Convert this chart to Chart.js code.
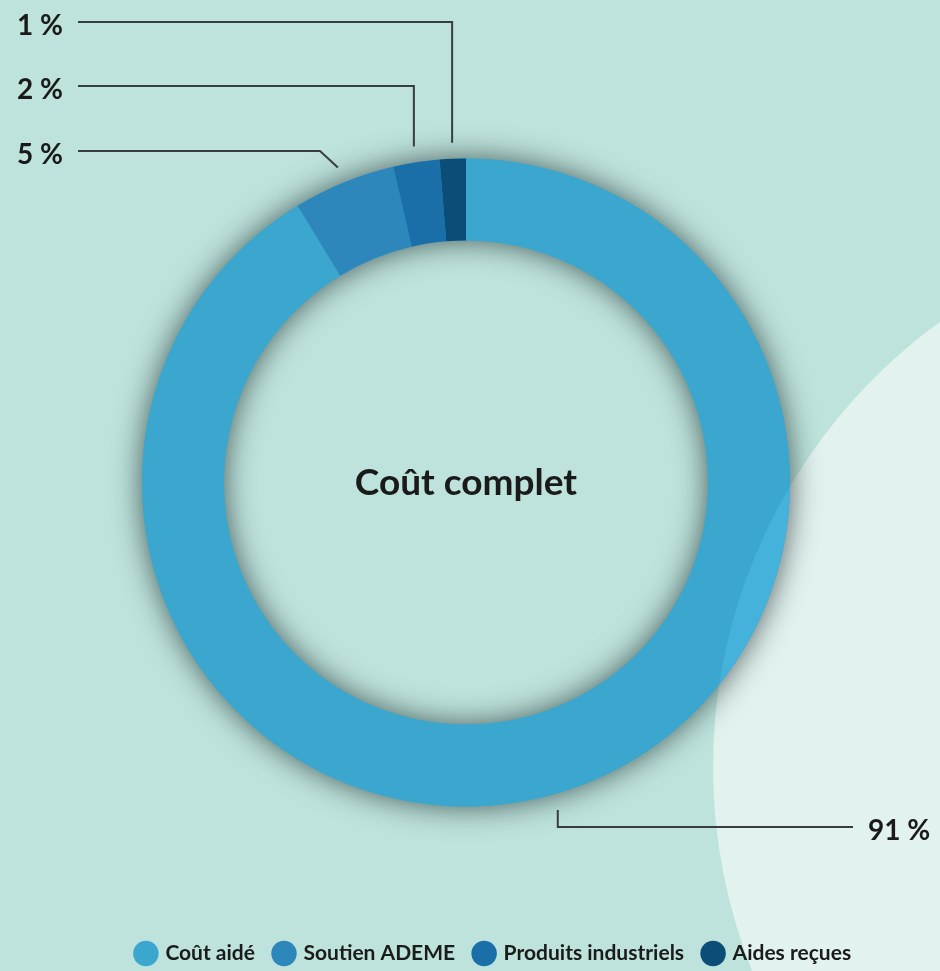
<!DOCTYPE html>
<html><head><meta charset="utf-8">
<script src="https://cdn.jsdelivr.net/npm/chart.js@4"></script>
<style>html,body{margin:0;padding:0;background:#bde3dc;overflow:hidden}#wrap{width:940px;height:971px;position:relative}</style>
</head><body><div id="wrap"><canvas id="c" width="940" height="971"></canvas></div>
<script>
const categories = ['Coût aidé', 'Soutien ADEME', 'Produits industriels', 'Aides reçues'];
const shares = [91.3, 5.1, 2.3, 1.3];
const shareLabels = ['91 %', '5 %', '2 %', '1 %'];
const sliceColors = ['#3ba7cf', '#2e87ba', '#1a6fa8', '#0c4d78'];
const centerTitle = 'Coût complet';

const FONT = 'Lato, "Open Sans", sans-serif';
const BG = '#bde3dc';

// leader line routes (layout only): kind + turning coordinates
const leaderLayout = [
  { kind: 'down', turnY: 827, endX: 853, textX: 868 },
  { kind: 'diag', turnX: 320, turnY: 151, endX: 78, textX: 17 },
  { kind: 'up', turnY: 86, endX: 78, textX: 17 },
  { kind: 'up', turnY: 22, endX: 78, textX: 17 }
];

const bgPlugin = {
  id: 'bg',
  beforeDraw(chart) {
    const ctx = chart.ctx;
    ctx.save();
    ctx.fillStyle = BG;
    ctx.fillRect(0, 0, chart.width, chart.height);
    ctx.beginPath();
    ctx.arc(1263, 767, 550, 0, Math.PI * 2);
    ctx.fillStyle = '#e1f2ef';
    ctx.fill();
    ctx.restore();
  }
};

const ringShadow = {
  id: 'ringShadow',
  beforeDatasetsDraw(chart) {
    const arc = chart.getDatasetMeta(0).data[0];
    if (!arc) return;
    const { x, y, outerRadius, innerRadius } = arc;
    const ctx = chart.ctx;
    ctx.save();
    ctx.shadowColor = 'rgba(20,30,30,0.7)';
    ctx.shadowBlur = 30;
    ctx.beginPath();
    ctx.arc(x, y, outerRadius, 0, Math.PI * 2);
    ctx.arc(x, y, innerRadius, 0, Math.PI * 2, true);
    ctx.fillStyle = sliceColors[0];
    ctx.fill('evenodd');
    ctx.restore();
  }
};

const overlayPlugin = {
  id: 'overlay',
  afterDatasetsDraw(chart) {
    const meta = chart.getDatasetMeta(0);
    const a0 = meta.data[0];
    const ctx = chart.ctx;
    // light circle overlapping the ring
    ctx.save();
    ctx.beginPath();
    ctx.arc(1263, 767, 550, 0, Math.PI * 2);
    ctx.clip();
    ctx.beginPath();
    ctx.arc(a0.x, a0.y, a0.outerRadius, 0, Math.PI * 2);
    ctx.arc(a0.x, a0.y, a0.innerRadius, 0, Math.PI * 2, true);
    ctx.fillStyle = 'rgba(85,195,238,0.4)';
    ctx.fill('evenodd');
    ctx.restore();

    // centre title
    ctx.save();
    ctx.fillStyle = '#1a1a1a';
    ctx.font = 'bold 37px ' + FONT;
    ctx.textAlign = 'center';
    ctx.textBaseline = 'middle';
    ctx.fillText(centerTitle, a0.x, a0.y + 1);
    ctx.restore();

    // leader lines and labels
    ctx.save();
    ctx.strokeStyle = '#3a3d3d';
    ctx.lineWidth = 2;
    ctx.fillStyle = '#1a1a1a';
    ctx.font = 'bold 28px ' + FONT;
    ctx.textBaseline = 'alphabetic';
    meta.data.forEach((arc, i) => {
      const L = leaderLayout[i];
      const mid = (arc.startAngle + arc.endAngle) / 2;
      const r = arc.outerRadius + 16;
      const ax = arc.x + Math.cos(mid) * r;
      const ay = arc.y + Math.sin(mid) * r;
      ctx.beginPath();
      ctx.moveTo(ax, ay);
      if (L.kind === 'diag') {
        ctx.lineTo(L.turnX, L.turnY);
        ctx.lineTo(L.endX, L.turnY);
      } else {
        ctx.lineTo(ax, L.turnY);
        ctx.lineTo(L.endX, L.turnY);
      }
      ctx.stroke();
      ctx.textAlign = 'left';
      ctx.fillText(shareLabels[i], L.textX, L.turnY + 12.5);
    });
    ctx.restore();
  }
};

const legendShift = {
  id: 'legendShift',
  afterLayout(chart) {
    if (chart.legend) {
      chart.legend.left += 56;
      chart.legend.top += 3;
      chart.legend.bottom += 3;
    }
  }
};

new Chart(document.getElementById('c'), {
  type: 'doughnut',
  data: {
    labels: categories,
    datasets: [{
      data: shares,
      backgroundColor: sliceColors,
      borderWidth: 0,
      radius: 324,
      cutout: '74.7%'
    }]
  },
  options: {
    responsive: false,
    animation: false,
    devicePixelRatio: 1,
    layout: { padding: { top: 45, left: 0, right: 8, bottom: 0 } },
    plugins: {
      tooltip: { enabled: false },
      legend: {
        position: 'bottom',
        labels: {
          usePointStyle: true,
          pointStyle: 'circle',
          boxWidth: 18,
          boxHeight: 18,
          padding: 20,
          color: '#1b1b1b',
          font: { family: FONT, size: 21, weight: 'bold' }
        }
      }
    }
  },
  plugins: [bgPlugin, ringShadow, overlayPlugin, legendShift]
});
</script>
</body></html>
